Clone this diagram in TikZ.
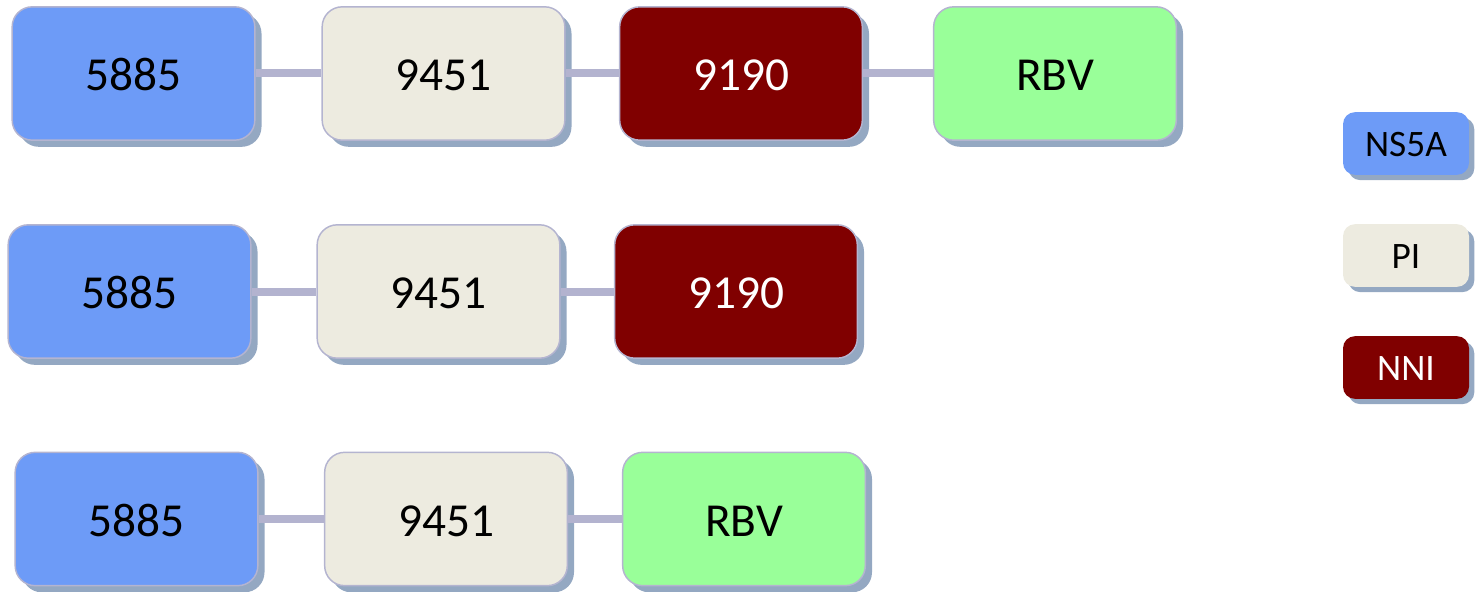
\documentclass[tikz,border=0pt]{standalone}
\usepackage{fontspec}
\setmainfont{Carlito}
\usetikzlibrary{shadows}
\definecolor{ns5a}{HTML}{6D9BF7}
\definecolor{pi}{HTML}{EDEBE0}
\definecolor{nni}{HTML}{800000}
\definecolor{rbv}{HTML}{99FF99}
\definecolor{edge}{HTML}{B4B4D0}
\definecolor{link}{HTML}{B3B3CF}
\definecolor{shade}{HTML}{94A8C2}
\tikzset{
  drug/.style={rounded corners=15pt, draw=edge, line width=1.1pt,
    minimum width=182pt, minimum height=100pt, inner sep=0pt,
    text height=25.8pt, text depth=0pt,
    font=\fontsize{35.5}{40}\selectfont,
    drop shadow={shadow xshift=5pt, shadow yshift=-5pt, fill=shade, opacity=1}},
  key/.style={rounded corners=9pt, draw=none,
    minimum width=94.5pt, minimum height=47pt, inner sep=0pt,
    text height=20.2pt, text depth=0pt,
    font=\fontsize{28}{32}\selectfont,
    drop shadow={shadow xshift=4pt, shadow yshift=-4pt, fill=shade, opacity=1}},
  ns/.style={fill=ns5a},
  pib/.style={fill=pi},
  nn/.style={fill=nni, text=white},
  rb/.style={fill=rbv},
  link/.style={draw=link, line width=6pt}
}
\begin{document}
\begin{tikzpicture}[x=0.75pt, y=-0.75pt]
\useasboundingbox (0,0) rectangle (1478,592);
% regimen with four drugs
\node[drug, ns]  (a1) at (133.5,73.5) {5885};
\node[drug, pib] (b1) at (443.5,73.5) {9451};
\node[drug, nn]  (c1) at (741,73.5) {9190};
\node[drug, rb]  (d1) at (1055,73.5) {RBV};
% regimen without ribavirin
\node[drug, ns]  (a2) at (129.5,291.5) {5885};
\node[drug, pib] (b2) at (438.5,291.5) {9451};
\node[drug, nn]  (c2) at (736,291.5) {9190};
% regimen without the NNI
\node[drug, ns]  (a3) at (136.5,519) {5885};
\node[drug, pib] (b3) at (446,519) {9451};
\node[drug, rb]  (c3) at (744,519) {RBV};
% links between drugs of a regimen
\draw[link] (a1) -- (b1);
\draw[link] (b1) -- (c1);
\draw[link] (c1) -- (d1);
\draw[link] (a2) -- (b2);
\draw[link] (b2) -- (c2);
\draw[link] (a3) -- (b3);
\draw[link] (b3) -- (c3);
% legend
\node[key, ns]  (k1) at (1406,143.5) {NS5A};
\node[key, pib] (k2) at (1406,255.5) {PI};
\node[key, nn]  (k3) at (1406,367.5) {NNI};
\end{tikzpicture}
\end{document}
